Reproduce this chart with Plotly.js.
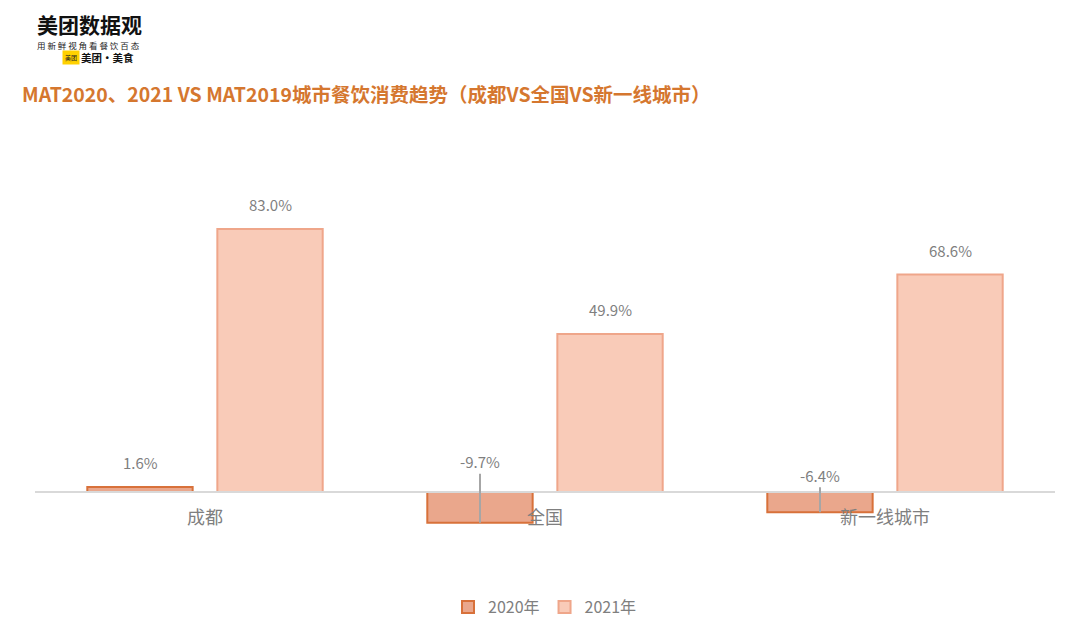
<!DOCTYPE html>
<html><head><meta charset="utf-8">
<script src="https://cdn.plot.ly/plotly-3.0.1.min.js"></script>
<style>body{margin:0;background:#fff;} #chart{width:1080px;height:629px;}</style>
</head><body><div id="chart"></div>
<script>
const categories = ['成都', '全国', '新一线城市'];
const seriesNames = ['2020年', '2021年'];
const values2020 = [1.6, -9.7, -6.4];
const values2021 = [83.0, 49.9, 68.6];
const titleText = 'MAT2020、2021 VS MAT2019城市餐饮消费趋势（成都VS全国VS新一线城市）';

const FONT = '"Noto Sans CJK SC", "Noto Sans", sans-serif';
const yMin = -21.46, yMax = 114.24;
const zeroPos = (0 - yMin) / (yMax - yMin);
const SHIFT = 65;
const labelGray = '#7f7f7f';

const fmt = v => v.toFixed(1) + '%';
const annotations = [];
function addLabels(vals, shift, leaderOffsets) {
  vals.forEach((v, i) => {
    if (v >= 0) {
      annotations.push({x: categories[i], y: v, xref: 'x', yref: 'y', text: fmt(v),
        showarrow: false, xshift: shift, yshift: 24, yanchor: 'middle',
        font: {family: FONT, size: 15, color: labelGray}});
    } else {
      annotations.push({x: categories[i], y: v, xref: 'x', yref: 'y', text: fmt(v),
        showarrow: true, arrowhead: 0, arrowwidth: 2, arrowcolor: '#a6a6a6',
        ax: 0, ay: leaderOffsets[i], axref: 'pixel', ayref: 'pixel', xshift: shift,
        standoff: 0, startstandoff: 0,
        font: {family: FONT, size: 15, color: labelGray}});
    }
  });
}
addLabels(values2020, -SHIFT, [0, -61, -37]);
addLabels(values2021, SHIFT, [0, 0, 0]);

// logo
const px = (yPix) => 1 + (130 - yPix) / 430;
annotations.push({xref: 'paper', yref: 'paper', x: -35/1020, y: px(24), xanchor: 'left', yanchor: 'middle',
  text: '<b>美团数据观</b>', showarrow: false, xshift: 36, borderpad: 0, font: {family: FONT, size: 21, color: '#111'}});
annotations.push({xref: 'paper', yref: 'paper', x: -35/1020, y: px(45), xanchor: 'left', yanchor: 'middle',
  text: '用&nbsp;新&nbsp;鲜&nbsp;视&nbsp;角&nbsp;看&nbsp;餐&nbsp;饮&nbsp;百&nbsp;态', showarrow: false, xshift: 36, borderpad: 0,
  font: {family: FONT, size: 8.5, color: '#222'}});
annotations.push({xref: 'paper', yref: 'paper', x: -35/1020, y: px(57.5), xanchor: 'left', yanchor: 'middle',
  text: '美团', showarrow: false, xshift: 62, bgcolor: '#ffd100', borderpad: 2, font: {family: FONT, size: 6, color: '#222'}});
annotations.push({xref: 'paper', yref: 'paper', x: -35/1020, y: px(57.5), xanchor: 'left', yanchor: 'middle',
  text: '<b>美团·美食</b>', showarrow: false, xshift: 79, font: {family: FONT, size: 10.5, color: '#111'}});

const data = [
  {type: 'bar', name: seriesNames[0], x: categories, y: values2020,
   marker: {color: '#eaa78c', line: {color: '#d8713a', width: 2}}},
  {type: 'bar', name: seriesNames[1], x: categories, y: values2021,
   marker: {color: '#f9cbb8', line: {color: '#efa68a', width: 2}}}
];

const layout = {
  width: 1080, height: 629,
  paper_bgcolor: '#ffffff', plot_bgcolor: '#ffffff',
  margin: {l: 35, r: 25, t: 130, b: 69, autoexpand: false},
  title: {text: '<b>' + titleText + '</b>', x: 22/1080, xanchor: 'left', y: 1 - 95/629, yanchor: 'middle',
    font: {family: FONT, size: 19.5, color: '#d5772f'}},
  barmode: 'group', bargap: 0.235, bargroupgap: 0.19,
  xaxis: {type: 'category', range: [-0.5, 2.5], anchor: 'free', position: zeroPos,
    showline: true, linecolor: '#d9d9d9', linewidth: 2, ticks: '', showgrid: false, zeroline: false,
    ticklabelstandoff: 9, automargin: false,
    tickfont: {family: FONT, size: 18, color: labelGray}},
  yaxis: {range: [yMin, yMax], visible: false, showgrid: false, zeroline: false, fixedrange: true, automargin: false},
  showlegend: true,
  legend: {orientation: 'h', x: 0.5, xanchor: 'center', y: -47/430, yanchor: 'middle',
    font: {family: FONT, size: 16, color: labelGray}, itemwidth: 30, traceorder: 'normal'},
  annotations: annotations
};
Plotly.newPlot('chart', data, layout, {displayModeBar: false, staticPlot: true});
</script></body></html>
